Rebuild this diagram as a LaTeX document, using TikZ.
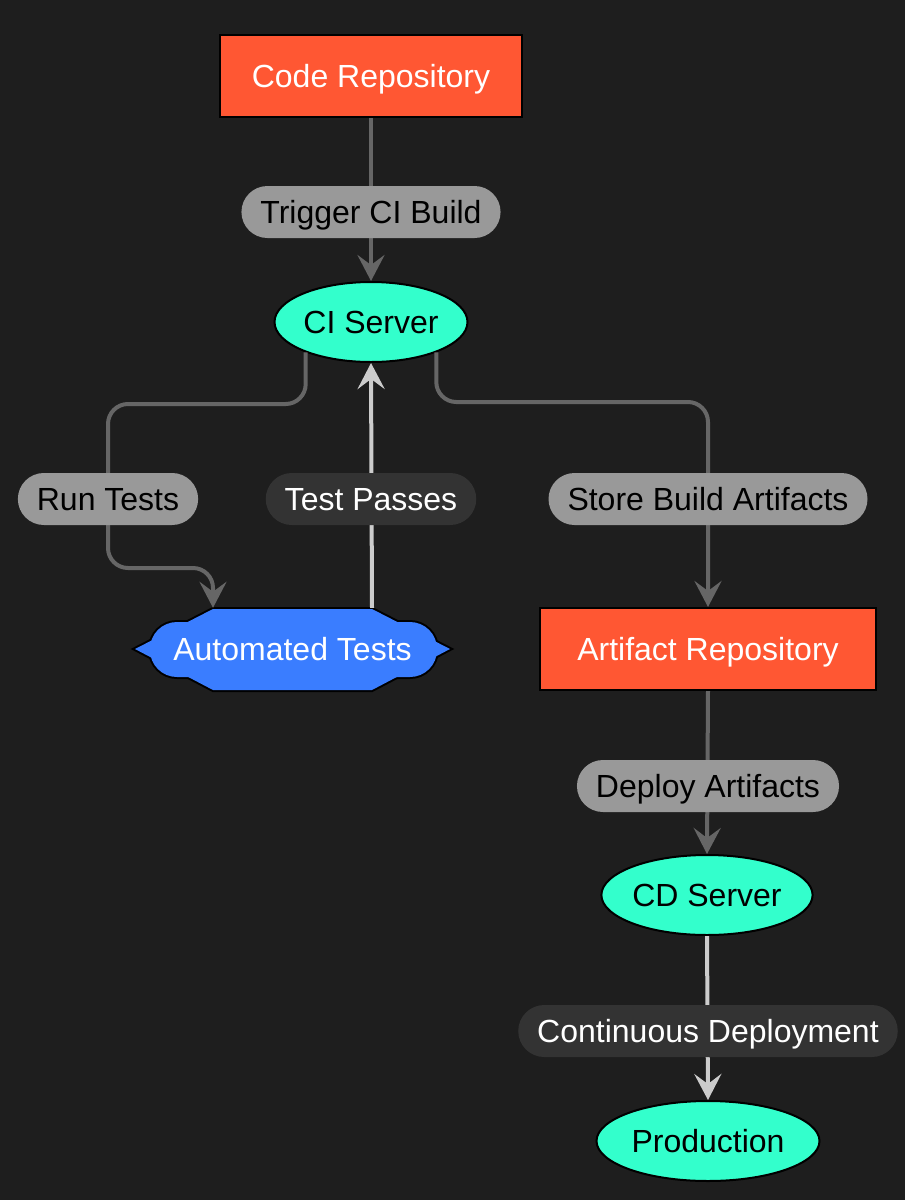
\documentclass[tikz,border=0pt]{standalone}
\usepackage{fontspec}
\setmainfont{Liberation Sans}
\usetikzlibrary{shapes.geometric,arrows.meta,calc}
\definecolor{bgc}{HTML}{1E1E1E}
\definecolor{orangered}{HTML}{FF5733}
\definecolor{aqua}{HTML}{33FFCC}
\definecolor{bluec}{HTML}{3A7DFF}
\definecolor{graylbl}{HTML}{999999}
\definecolor{darklbl}{HTML}{333333}
\definecolor{edgegray}{HTML}{666666}
\definecolor{edgelight}{HTML}{CCCCCC}
\tikzset{
  txt/.style={font=\fontsize{32}{36}\selectfont, text height=27.5pt, text depth=4pt},
  rectnode/.style={txt, rectangle, draw=black, line width=2pt, fill=orangered, text=white, minimum height=82pt, inner sep=0pt},
  ellnode/.style={txt, ellipse, draw=black, line width=2pt, fill=aqua, text=black, minimum height=80pt, inner sep=0pt},
  pill/.style={txt, rectangle, rounded corners=26pt, minimum height=52pt, inner xsep=19pt, inner ysep=0pt},
  graypill/.style={pill, fill=graylbl, text=black},
  darkpill/.style={pill, fill=darklbl, text=white},
  arrowtip/.style={-{Stealth[length=26pt,width=27pt,inset=10pt]}},
  edgeg/.style={draw=edgegray, line width=4pt, arrowtip},
  edgel/.style={draw=edgelight, line width=4pt, arrowtip},
}
\begin{document}
\begin{tikzpicture}[x=1pt,y=-1pt]
\fill[bgc] (0,0) rectangle (905,1200);
\useasboundingbox (0,0) rectangle (905,1200);

% Automated Tests shape (union of hexagon and pill)
\path[draw=black, line width=4pt, fill=bluec] (213,609) -- (372,609) -- (450,649) -- (372,690) -- (213,690) -- (135,649) -- cycle;
\path[draw=black, line width=4pt, fill=bluec, rounded corners=27pt] (150,622) rectangle (437,677);
\fill[bluec] (213,609) -- (372,609) -- (450,649) -- (372,690) -- (213,690) -- (135,649) -- cycle;
\fill[bluec, rounded corners=27pt] (150,622) rectangle (437,677);

% Nodes
\node[rectnode, minimum width=302pt] (code) at (371,76) {Code Repository};
\node[ellnode, minimum width=193pt] (ci) at (371,322) {CI Server};
\node[txt, text=white, minimum width=315pt, minimum height=82pt, inner sep=0pt] (auto) at (292.5,649) {Automated Tests};
\node[rectnode, minimum width=336pt] (art) at (708,649) {Artifact Repository};
\node[ellnode, minimum width=206pt] (cd) at (707,895) {CD Server};
\node[ellnode, minimum width=223pt] (prod) at (708,1141) {Production};

% Edges
\draw[edgeg] (code.south) -- (ci.north);
\draw[edgeg, rounded corners=20pt] (ci.205) |- (108,404) -- (108,568) -| ($(auto.north)+(-79.5,0)$);
\draw[edgel] ($(auto.north)+(79.5,0)$) -- (ci.south);
\draw[edgeg, rounded corners=20pt] (ci.335) |- ($(art.north)+(0,-205)$) -- (art.north);
\draw[edgeg] (art.south) -- (cd.north);
\draw[edgel] (cd.south) -- (prod.north);

% Labels
\node[graypill] (l1) at (371,212) {Trigger CI Build};
\node[graypill] (l2) at (108,499) {Run Tests};
\node[darkpill] (l3) at (371,499) {Test Passes};
\node[graypill] (l4) at (708,499) {Store Build Artifacts};
\node[graypill] (l5) at (708,786) {Deploy Artifacts};
\node[darkpill] (l6) at (708,1031) {Continuous Deployment};
\end{tikzpicture}
\end{document}
